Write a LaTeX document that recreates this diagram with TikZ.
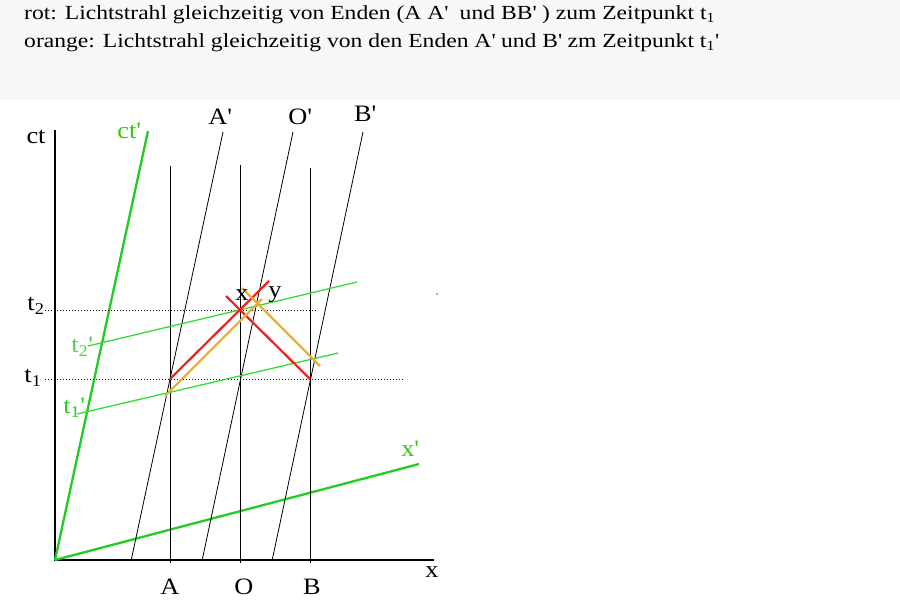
\documentclass[tikz,border=0pt]{standalone}
\usepackage{fontspec}
\setmainfont{Liberation Serif}[FakeStretch=1.12]
\newfontfamily\headfont{Liberation Serif}[FakeStretch=1.18]
\usepackage{tikz}
\usetikzlibrary{positioning}
\definecolor{headgray}{HTML}{F8F8F8}
\definecolor{axisgreen}{HTML}{22CC22}
\definecolor{labgreen}{HTML}{33CC00}
\definecolor{thingreen}{HTML}{33DD33}
\definecolor{lightlab}{HTML}{55CC55}
\definecolor{rayred}{HTML}{EE2020}
\definecolor{rayorange}{HTML}{EEB028}
\newcommand{\apos}{\textquotesingle}
\tikzset{
  axis/.style={line width=2.2pt, line cap=rect},
  world/.style={line width=1pt},
  primeaxis/.style={line width=2.3pt, axisgreen},
  simline/.style={line width=1.3pt, thingreen},
  tline/.style={line width=1pt, dash pattern=on 1pt off 2pt},
  ray/.style={line width=2.2pt},
  lab/.style={font=\fontsize{23.5}{25}\selectfont, inner sep=0pt},
  head/.style={font=\headfont\fontsize{20}{22}\selectfont, inner sep=0pt, anchor=base west}
}

\begin{document}
\begin{tikzpicture}[x=1pt, y=-1pt]
\useasboundingbox (0,0) rectangle (900,600);
\fill[headgray] (0,0) rectangle (900,100);

\node[head] (rot) at (24,19) {rot: Lichtstrahl gleichzeitig von Enden (A A\apos~ und BB\apos\ ) zum Zeitpunkt t\textsubscript{1}};
\node[head] (orange) at (24,47) {orange: Lichtstrahl gleichzeitig von den Enden A\apos\ und B\apos\ zm Zeitpunkt t\textsubscript{1}\apos};

% axes
\coordinate (origin) at (55,560);
\coordinate (cttop) at (55,131);
\coordinate (xend) at (433,560);
\draw[axis] (cttop) -- (origin) -- (xend);
\coordinate (ctptop) at (148,131);
\coordinate (xpend) at (419,464);
\draw[primeaxis] (origin) -- (ctptop);
\draw[primeaxis] (origin) -- (xpend);

% world lines at rest
\foreach \n/\x/\t in {A/170/166, O/240/165, B/310/168}
{
    \coordinate (\n top) at (\x,\t);
    \coordinate (\n bot) at (\x,563);
    \draw[world] (\n top) -- (\n bot);
}

% moving ends
\foreach \n/\x/\u in {A/131/223, O/202/293, B/272/363}
{
    \coordinate (\n pbot) at (\x,561);
    \coordinate (\n ptop) at (\u,132);
    \draw[line width=0.8pt] (\n pbot) -- (\n ptop);
}

% simultaneity
\coordinate (t2l) at (45,310);
\coordinate (t2r) at (316,310);
\coordinate (t1l) at (45,379);
\coordinate (t1r) at (405,379);
\draw[tline] (t2l) -- (t2r);
\draw[tline] (t1l) -- (t1r);
\coordinate (t2pl) at (88,346);
\coordinate (t2pr) at (357,282);
\coordinate (t1pl) at (77,414);
\coordinate (t1pr) at (338,353);
\draw[simline] (t2pl) -- (t2pr);
\draw[simline] (t1pl) -- (t1pr);

% light rays
\coordinate (ra1) at (170,379);
\coordinate (ra2) at (269,281);
\coordinate (rb1) at (310,379);
\coordinate (rb2) at (226,296);
\draw[ray, rayred] (ra1) -- (ra2);
\draw[ray, rayred] (rb1) -- (rb2);
\coordinate (oa1) at (165,396);
\coordinate (oa2) at (262,299);
\coordinate (ob1) at (320,366);
\coordinate (ob2) at (242,288);
\draw[ray, rayorange] (oa1) -- (oa2);
\draw[ray, rayorange] (ob1) -- (ob2);
\coordinate (dot) at (437,294);
\fill[rayred] (dot) circle (0.8);

% labels
\node[lab] (ct) at (36,137) {ct};
\node[lab, labgreen] (ctp) at (129,131) {ct\apos};
\node[lab] (Ap) at (220,117) {A\apos};
\node[lab] (Op) at (300,117) {O\apos};
\node[lab] (Bp) at (365,114) {B\apos};
\node[lab] (x) at (432,572) {x};
\node[lab, labgreen] (xp) at (410,449) {x\apos};
\node[lab] (A) at (170,587) {A};
\node[lab] (O) at (244,587) {O};
\node[lab] (B) at (312,587) {B};
\node[lab] (t2) at (36,306) {t\textsubscript{2}};
\node[lab] (t1) at (33,378) {t\textsubscript{1}};
\node[lab, lightlab] (t2p) at (82,347) {t\textsubscript{2}\apos};
\node[lab, axisgreen] (t1p) at (74,408) {t\textsubscript{1}\apos};
\node[lab] (xx) at (242,295) {x};
\node[lab] (yy) at (275,295) {y};
\end{tikzpicture}
\end{document}
